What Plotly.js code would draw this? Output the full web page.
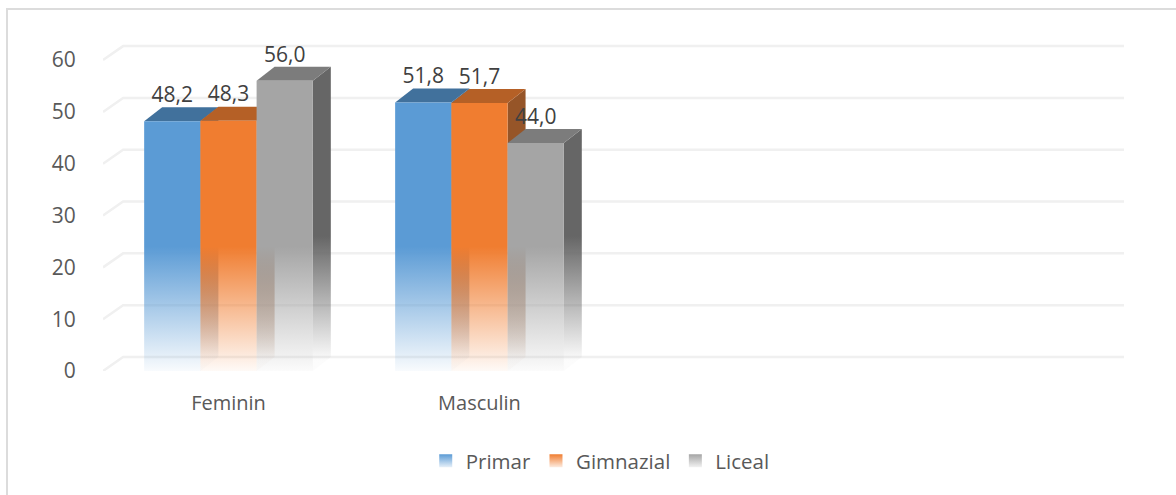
<!DOCTYPE html>
<html><head><meta charset="utf-8">
<script src="https://cdn.plot.ly/plotly-3.0.1.min.js"></script>
<style>html,body{margin:0;padding:0;background:#fff}</style></head>
<body><div id="chart" style="width:1176px;height:495px"></div>
<script>
const categories = ['Feminin','Masculin'];
const primar = [48.2,51.8];
const gimnazial = [48.3,51.7];
const liceal = [56.0,44.0];
const seriesNames = ['Primar','Gimnazial','Liceal'];
const seriesValues = [primar,gimnazial,liceal];
const frontRGB = ['91,155,213','240,125,48','165,165,165'];
const topRGB = ['65,113,156','181,96,38','124,124,124'];
const sideRGB = ['65,113,156','150,85,40','102,102,102'];
const yTicks = [0,10,20,30,40,50,60];

const barW = 0.224, dx = 0.0717, dy = 2.7, xMin = -0.5, xMax = 3.568, yMax = 66;
const fontFam = '"Open Sans", sans-serif';
const fade = (rgb,a0) => [[0,`rgba(${rgb},${a0})`],[1,`rgba(${rgb},1)`]];
const traces = [];
const none = {width:0};

yTicks.forEach(v=>{
  traces.push({type:'scatter',mode:'lines',x:[xMin,xMin+0.08,xMax],y:[v,v+dy,v+dy],
    line:{color:'#f0f0f0',width:2.5},hoverinfo:'skip',showlegend:false});
});

seriesNames.forEach((name,s)=>{
  categories.forEach((c,i)=>{
    const v = seriesValues[s][i];
    const l = i + (s-1.5)*barW, r = l+barW;
    traces.push({type:'scatter',mode:'lines',line:none,fill:'toself',hoverinfo:'skip',showlegend:false,
      x:[r,r+dx,r+dx,r,r],y:[0,dy,v+dy,v,0],
      fillgradient:{type:'vertical',start:2,stop:26,colorscale:fade(sideRGB[s],0.02)}});
    traces.push({type:'scatter',mode:'lines',line:none,fill:'toself',fillcolor:`rgb(${topRGB[s]})`,hoverinfo:'skip',showlegend:false,
      x:[l,l+dx,r+dx,r,l],y:[v,v+dy,v+dy,v,v]});
    traces.push({type:'scatter',mode:'lines',line:none,fill:'toself',hoverinfo:'skip',showlegend:false,
      x:[l,r,r,l,l],y:[0,0,v,v,0],
      fillgradient:{type:'vertical',start:0,stop:24,colorscale:fade(frontRGB[s],0.04)}});
  });
});

seriesNames.forEach((name,s)=>{
  traces.push({type:'scatter',mode:'text',showlegend:false,hoverinfo:'skip',cliponaxis:false,
    x:categories.map((c,i)=>i+(s-1)*barW),
    y:seriesValues[s].map(v=>v+dy),
    text:seriesValues[s].map(v=>v.toFixed(1).replace('.',',')),
    textposition:'top center',
    textfont:{family:fontFam,size:21,color:'#404040'}});
});

// legend keys
seriesNames.forEach((name,s)=>{
  traces.push({type:'scatter',mode:'markers',name:name,x:[null],y:[null],hoverinfo:'skip',
    marker:{symbol:'square',size:13,color:`rgb(${frontRGB[s]})`,line:{width:0},
      gradient:{type:'vertical',color:`rgba(${frontRGB[s]},0.15)`}}});
});

const layout = {
  width:1176,height:495,
  margin:{l:103,r:52,t:29,b:124,pad:0},
  paper_bgcolor:'#fff',plot_bgcolor:'rgba(0,0,0,0)',
  font:{family:fontFam,size:21,color:'#595959'},
  xaxis:{range:[xMin,xMax],tickmode:'array',tickvals:categories.map((c,i)=>i),ticktext:categories,
    showgrid:false,zeroline:false,showline:false,ticks:'outside',ticklen:14,tickcolor:'rgba(0,0,0,0)',
    tickfont:{size:20,color:'#595959'},fixedrange:true},
  yaxis:{range:[0,yMax],tickmode:'array',tickvals:yTicks,showgrid:false,zeroline:false,showline:false,
    ticks:'outside',ticklen:22,tickcolor:'rgba(0,0,0,0)',tickfont:{size:21,color:'#595959'},fixedrange:true},
  legend:{orientation:'h',x:0.487,xanchor:'center',y:-0.263,yanchor:'middle',font:{size:20.5,color:'#595959'},
    bgcolor:'rgba(0,0,0,0)',itemclick:false,itemdoubleclick:false},
  shapes:[
    {type:'line',xref:'paper',yref:'paper',x0:(6-103)/1021,x1:(1176-103)/1021,y0:(371-9)/342,y1:(371-9)/342,line:{color:'#dcdcdc',width:2},layer:'below'},
    {type:'line',xref:'paper',yref:'paper',x0:(7-103)/1021,x1:(7-103)/1021,y0:(371-8)/342,y1:(371-495)/342,line:{color:'#dcdcdc',width:2},layer:'below'}],
  showlegend:true
};
Plotly.newPlot('chart',traces,layout,{displayModeBar:false});
</script></body></html>
